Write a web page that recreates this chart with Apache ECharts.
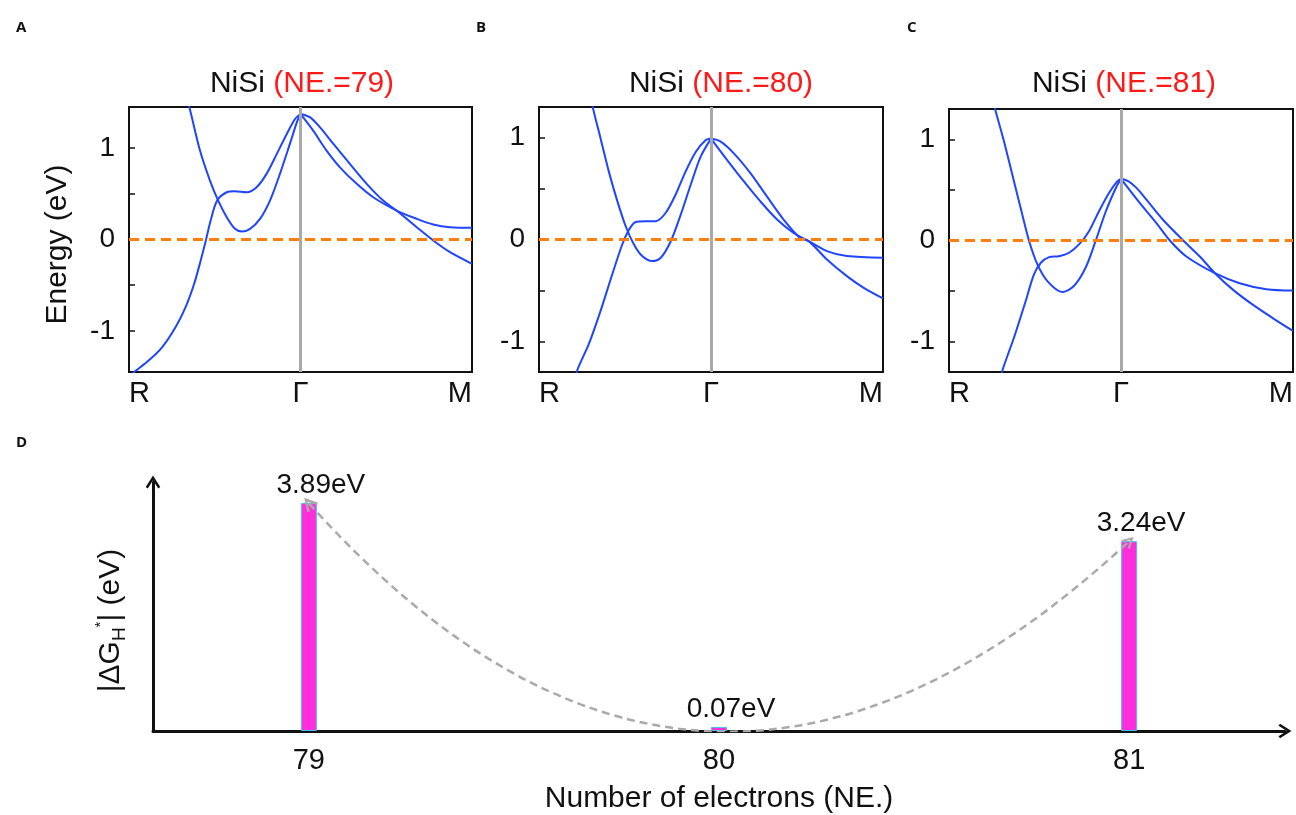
<!DOCTYPE html>
<html>
<head>
<meta charset="utf-8">
<script src="https://cdn.jsdelivr.net/npm/echarts@6/dist/echarts.min.js"></script>
<style>
  html, body { margin: 0; padding: 0; background: #fff; }
  #chart { width: 1296px; height: 815px; }
</style>
</head>
<body>
<div id="chart"></div>
<script>
// band structures along R - Γ - M, k scaled to [0, 1] with Γ at 0.5
const kLabels = ['R', 'Γ', 'M']
const kTicks = [0, 0.5, 1]
const energyTicks = [-1, -0.5, 0, 0.5, 1]
const energyLabels = [-1, 0, 1]

// NE. = 79
const ne79_left1 = [[0.168, 1.53], [0.176, 1.446], [0.207, 0.973], [0.236, 0.645], [0.260, 0.426], [0.285, 0.244], [0.309, 0.117], [0.329, 0.087], [0.353, 0.117], [0.382, 0.226], [0.411, 0.426], [0.440, 0.718], [0.469, 1.046], [0.490, 1.29], [0.5, 1.374]]
const ne79_left2 = [[0.0, -1.5], [0.015, -1.45], [0.058, -1.322], [0.097, -1.177], [0.136, -0.958], [0.165, -0.740], [0.190, -0.484], [0.209, -0.230], [0.224, -0.011], [0.238, 0.208], [0.257, 0.426], [0.285, 0.517], [0.309, 0.528], [0.343, 0.517], [0.372, 0.572], [0.401, 0.718], [0.431, 0.937], [0.460, 1.155], [0.484, 1.319], [0.5, 1.374]]
const ne79_right1 = [[0.5, 1.374], [0.528, 1.337], [0.557, 1.227], [0.596, 1.046], [0.644, 0.827], [0.693, 0.609], [0.741, 0.426], [0.780, 0.317], [0.839, 0.134], [0.887, -0.011], [0.936, -0.139], [1.0, -0.266]]
const ne79_right2 = [[0.5, 1.374], [0.537, 1.191], [0.576, 0.973], [0.615, 0.790], [0.664, 0.609], [0.712, 0.462], [0.780, 0.317], [0.839, 0.226], [0.887, 0.164], [0.936, 0.134], [1.0, 0.128]]

// NE. = 80
const ne80_left1 = [[0.150, 1.45], [0.155, 1.317], [0.179, 0.992], [0.203, 0.666], [0.228, 0.374], [0.252, 0.130], [0.276, -0.049], [0.300, -0.163], [0.329, -0.212], [0.354, -0.179], [0.383, -0.017], [0.412, 0.244], [0.441, 0.537], [0.470, 0.813], [0.5, 0.99]]
const ne80_left2 = [[0.105, -1.40], [0.111, -1.285], [0.145, -1.024], [0.179, -0.700], [0.213, -0.341], [0.242, -0.049], [0.262, 0.098], [0.281, 0.172], [0.310, 0.179], [0.339, 0.179], [0.368, 0.26], [0.397, 0.439], [0.426, 0.666], [0.456, 0.861], [0.485, 0.976], [0.5, 0.99]]
const ne80_right1 = [[0.5, 0.99], [0.527, 0.962], [0.565, 0.85], [0.614, 0.654], [0.662, 0.425], [0.711, 0.196], [0.759, 0.016], [0.784, -0.016], [0.837, -0.196], [0.895, -0.359], [0.944, -0.474], [1.0, -0.578]]
const ne80_right2 = [[0.5, 0.99], [0.546, 0.784], [0.595, 0.572], [0.643, 0.376], [0.692, 0.196], [0.740, 0.065], [0.784, -0.016], [0.837, -0.114], [0.895, -0.163], [1.0, -0.18]]

// NE. = 81
const ne81_left1 = [[0.126, 1.45], [0.131, 1.34], [0.160, 0.978], [0.189, 0.584], [0.213, 0.256], [0.233, -0.007], [0.257, -0.236], [0.286, -0.401], [0.329, -0.509], [0.363, -0.450], [0.397, -0.269], [0.426, -0.007], [0.456, 0.289], [0.485, 0.519], [0.5, 0.61]]
const ne81_left2 = [[0.150, -1.40], [0.155, -1.288], [0.189, -0.959], [0.223, -0.598], [0.247, -0.335], [0.267, -0.220], [0.291, -0.164], [0.320, -0.155], [0.349, -0.121], [0.378, -0.039], [0.407, 0.092], [0.436, 0.289], [0.465, 0.470], [0.489, 0.584], [0.5, 0.61]]
const ne81_right1 = [[0.5, 0.61], [0.522, 0.585], [0.545, 0.52], [0.574, 0.403], [0.622, 0.205], [0.681, 0.0], [0.729, -0.158], [0.773, -0.323], [0.826, -0.488], [0.884, -0.637], [0.942, -0.769], [1.0, -0.894]]
const ne81_right2 = [[0.5, 0.61], [0.555, 0.37], [0.603, 0.172], [0.642, 0.0], [0.690, -0.158], [0.773, -0.323], [0.845, -0.422], [0.923, -0.482], [1.0, -0.495]]

// panel D
const electronCounts = [79, 80, 81]
const deltaG = [3.89, 0.07, 3.24]

const FONT = '"Liberation Sans", Arial, sans-serif'
const TXT = '#111'
const BLUE = '#1f45ff'

const bands = [
  [ne79_left1, ne79_left2, ne79_right1, ne79_right2],
  [ne80_left1, ne80_left2, ne80_right1, ne80_right2],
  [ne81_left1, ne81_left2, ne81_right1, ne81_right2],
]
const yRanges = [1.45, 1.3, 1.3]
const bandGrids = [
  { left: 129, top: 107, width: 343, height: 265 },
  { left: 539, top: 107, width: 344, height: 265 },
  { left: 949, top: 109, width: 344, height: 263 },
]
const titleX = [297, 716, 1119]
const letterPos = [[11, 15, 'A'], [471, 15, 'B'], [902, 15, 'C'], [11, 430, 'D']]

const chevron = 'path://M0,11 L7,0 L14,11 L12,12.5 L7,4.5 L2,12.5 Z'

const grid = bandGrids.map(g => ({ ...g, show: true, borderColor: '#111', borderWidth: 2, backgroundColor: 'transparent' }))
grid.push({ left: 153, top: 482, right: 11, bottom: 84 })

const xAxis = bandGrids.map((g, i) => ({
  type: 'value', gridIndex: i, min: 0, max: 1,
  axisLine: { show: false }, axisTick: { show: false }, splitLine: { show: false },
  axisLabel: {
    customValues: kTicks,
    formatter: v => kLabels[kTicks.indexOf(v)],
    fontSize: 29, color: TXT, fontFamily: FONT, margin: 7,
    alignMinLabel: 'left', alignMaxLabel: 'right',
  },
}))
xAxis.push({
  type: 'value', gridIndex: 3, min: 78.62, max: 81.38,
  axisLine: { show: true, onZero: false, lineStyle: { color: '#111', width: 3 }, symbol: ['none', chevron], symbolSize: [15, 13] },
  axisTick: { show: false }, splitLine: { show: false },
  axisLabel: { customValues: electronCounts, fontSize: 29, color: TXT, fontFamily: FONT, margin: 15 },
  name: 'Number of electrons (NE.)', nameLocation: 'middle', nameGap: 53,
  nameTextStyle: { fontSize: 30, color: TXT, fontFamily: FONT },
})

const yAxis = bandGrids.map((g, i) => ({
  type: 'value', gridIndex: i, min: -yRanges[i], max: yRanges[i],
  axisLine: { show: false }, splitLine: { show: false },
  axisTick: { show: true, inside: true, length: 6, customValues: energyTicks, lineStyle: { color: '#111', width: 1.5 } },
  axisLabel: { customValues: energyLabels, formatter: v => String(v), fontSize: 28, color: TXT, fontFamily: FONT, margin: 14 },
  ...(i === 0 ? {
    name: 'Energy (eV)', nameLocation: 'middle', nameGap: 56, nameRotate: 90,
    nameTextStyle: { fontSize: 30, color: TXT, fontFamily: FONT, padding: [0, 10, 0, 0] },
  } : {}),
}))
yAxis.push({
  type: 'value', gridIndex: 3, min: 0, max: 4.25,
  axisLine: { show: true, onZero: false, lineStyle: { color: '#111', width: 3 }, symbol: ['none', chevron], symbolSize: [15, 13] },
  axisTick: { show: false }, axisLabel: { show: false }, splitLine: { show: false },
  name: '{m||ΔG}{s|H}{p|*}{m|| (eV)}', nameLocation: 'middle', nameGap: 24, nameRotate: 90,
  nameTextStyle: {
    color: TXT, fontFamily: FONT, padding: [0, 28, 0, 0],
    rich: {
      m: { fontSize: 30, color: TXT, fontFamily: FONT, lineHeight: 36 },
      s: { fontSize: 19, color: TXT, fontFamily: FONT, verticalAlign: 'bottom', lineHeight: 36, padding: [8, 0, 0, 0] },
      p: { fontSize: 15, color: TXT, fontFamily: FONT, verticalAlign: 'top', lineHeight: 36 },
    },
  },
})

const series = []
bands.forEach((set, i) => {
  set.forEach((pts, j) => {
    series.push({
      type: 'line', xAxisIndex: i, yAxisIndex: i, data: pts,
      symbol: 'none', smooth: 0.3, clip: true,
      lineStyle: { color: BLUE, width: 2 }, z: 3,
      markLine: j === 0 ? {
        silent: true, symbol: 'none', label: { show: false }, animation: false,
        data: [
          { xAxis: kTicks[1], lineStyle: { color: '#a9a9a9', width: 3, type: 'solid' } },
          { yAxis: 0, lineStyle: { color: '#ff7f0e', width: 3, type: [10, 6] } },
        ],
      } : undefined,
    })
  })
})

series.push({
  type: 'bar', xAxisIndex: 3, yAxisIndex: 3,
  data: electronCounts.map((n, i) => [n, deltaG[i]]),
  barWidth: 16,
  itemStyle: { color: '#ff30dc', borderColor: '#3cc4f0', borderWidth: 1 },
  label: {
    show: true, position: 'top', distance: 4, offset: [12, 0],
    formatter: p => p.value[1].toFixed(2) + 'eV',
    fontSize: 28, color: TXT, fontFamily: FONT,
  },
})

series.push({
  type: 'lines', coordinateSystem: 'cartesian2d', xAxisIndex: 3, yAxisIndex: 3,
  symbol: [chevron, chevron], symbolSize: [14, 12],
  lineStyle: { color: '#aaaaaa', width: 2.5, type: [8, 5], curveness: -0.51, opacity: 1 },
  data: [{ coords: [[electronCounts[0], deltaG[0]], [electronCounts[2], deltaG[2]]] }],
  z: 4,
})

const title = electronCounts.map((n, i) => ({
  text: '{k|NiSi }{r|(NE.=' + n + ')}',
  left: titleX[i], top: 64, textAlign: 'center',
  textStyle: {
    rich: {
      k: { fontSize: 30, fontWeight: 'normal', color: TXT, fontFamily: FONT },
      r: { fontSize: 30, fontWeight: 'normal', color: '#ff1a1a', fontFamily: FONT },
    },
  },
}))
letterPos.forEach(([x, y, t]) => {
  title.push({ text: t, left: x, top: y, textStyle: { fontSize: 15, fontWeight: 'bold', color: TXT, fontFamily: '"Open Sans", sans-serif' } })
})

const chart = echarts.init(document.getElementById('chart'))
chart.setOption({
  animation: false,
  backgroundColor: '#fff',
  title, grid, xAxis, yAxis, series,
})
</script>
</body>
</html>
